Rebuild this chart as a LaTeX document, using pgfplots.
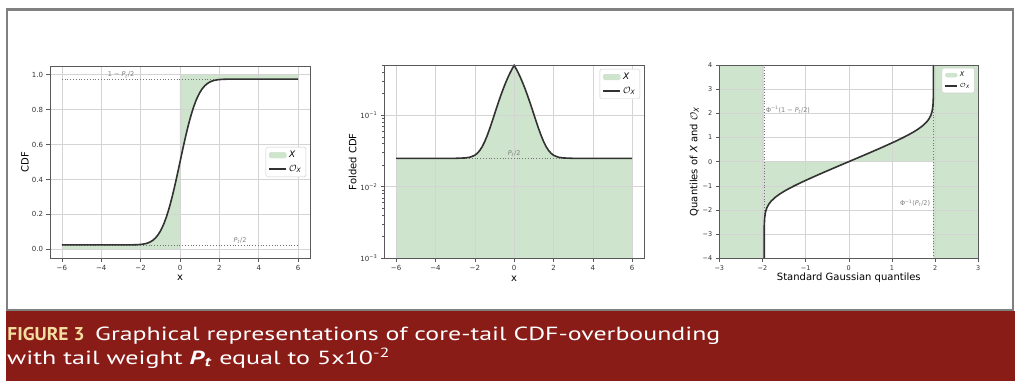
\documentclass[border=0pt]{standalone}
\usepackage{graphicx}
\usepackage{fontspec}
\setmainfont{DejaVu Sans}
\newfontfamily\capfont{PT Sans}
\usepackage{pgfplots}
\pgfplotsset{compat=1.18}
\usepackage{pgfplotstable}

\definecolor{gfill}{RGB}{206,228,204}
\definecolor{capred}{RGB}{138,28,24}
\definecolor{capyel}{RGB}{245,222,162}
\definecolor{curvec}{RGB}{50,50,50}

% CDF overbound (panel 1)
\pgfplotstableread{
x y
-6 0.025
-3 0.025
-2.5 0.0253
-2.25 0.0259
-2 0.0276
-1.875 0.0294
-1.75 0.0322
-1.625 0.0364
-1.5 0.0427
-1.375 0.0517
-1.25 0.0642
-1.125 0.0811
-1 0.1033
-0.9 0.1253
-0.8 0.1516
-0.7 0.1822
-0.6 0.2173
-0.5 0.2565
-0.4 0.2996
-0.3 0.3466
-0.2 0.3960
-0.1 0.4476
0 0.5
0.1 0.5524
0.2 0.6040
0.3 0.6534
0.4 0.7004
0.5 0.7435
0.6 0.7827
0.7 0.8178
0.8 0.8484
0.9 0.8747
1 0.8967
1.125 0.9189
1.25 0.9358
1.375 0.9483
1.5 0.9573
1.625 0.9636
1.75 0.9678
1.875 0.9706
2 0.9724
2.25 0.9741
2.5 0.9747
3 0.975
6 0.975
}\cdftab

% region of X below the curve, x<0
\pgfplotstableread{
x y
-6 0
-6 0.025
-3 0.025
-2.5 0.0253
-2.25 0.0259
-2 0.0276
-1.875 0.0294
-1.75 0.0322
-1.625 0.0364
-1.5 0.0427
-1.375 0.0517
-1.25 0.0642
-1.125 0.0811
-1 0.1033
-0.9 0.1253
-0.8 0.1516
-0.7 0.1822
-0.6 0.2173
-0.5 0.2565
-0.4 0.2996
-0.3 0.3466
-0.2 0.3960
-0.1 0.4476
0 0.5
0 0
}\lowpoly

% region of X above the curve, x>0
\pgfplotstableread{
x y
0 1
0 0.5
0.1 0.5524
0.2 0.6040
0.3 0.6534
0.4 0.7004
0.5 0.7435
0.6 0.7827
0.7 0.8178
0.8 0.8484
0.9 0.8747
1 0.8967
1.125 0.9189
1.25 0.9358
1.375 0.9483
1.5 0.9573
1.625 0.9636
1.75 0.9678
1.875 0.9706
2 0.9724
2.25 0.9741
2.5 0.9747
3 0.975
6 0.975
6 1
}\uppoly

% folded CDF (panel 2)
\pgfplotstableread{
x y
-6 0.025
-3 0.02501
-2.5 0.0253
-2.25 0.0259
-2 0.0276
-1.875 0.0294
-1.75 0.0322
-1.625 0.0364
-1.5 0.0427
-1.375 0.0517
-1.25 0.0642
-1.125 0.0811
-1 0.1033
-0.9 0.1253
-0.8 0.1516
-0.7 0.1822
-0.6 0.2173
-0.5 0.2565
-0.4 0.2996
-0.3 0.3466
-0.2 0.3960
-0.1 0.4476
0 0.5
0.1 0.4476
0.2 0.3960
0.3 0.3466
0.4 0.2996
0.5 0.2565
0.6 0.2173
0.7 0.1822
0.8 0.1516
0.9 0.1253
1 0.1033
1.125 0.0811
1.25 0.0642
1.375 0.0517
1.5 0.0427
1.625 0.0364
1.75 0.0322
1.875 0.0294
2 0.0276
2.25 0.0259
2.5 0.0253
3 0.02501
6 0.025
}\foldtab

% quantiles (panel 3)
\pgfplotstableread{
x y
-1.96 -4
-1.9599 -3.06
-1.959 -2.77
-1.958 -2.64
-1.95 -2.33
-1.93 -2.085
-1.9 -1.914
-1.85 -1.750
-1.8 -1.636
-1.7 -1.470
-1.6 -1.340
-1.5 -1.228
-1.4 -1.128
-1.25 -0.989
-1.1 -0.859
-1 -0.776
-0.75 -0.575
-0.5 -0.381
-0.25 -0.190
0 0
}\qneg
\pgfplotstableread{
x y
0 0
0.25 0.190
0.5 0.381
0.75 0.575
1 0.776
1.1 0.859
1.25 0.989
1.4 1.128
1.5 1.228
1.6 1.340
1.7 1.470
1.8 1.636
1.85 1.750
1.9 1.914
1.93 2.085
1.95 2.33
1.958 2.64
1.959 2.77
1.9599 3.06
1.96 4
}\qpos

\tikzset{
  curvest/.style={curvec, line width=1.6pt},
  dotst/.style={dotted, black!55, line width=0.8pt},
  gridst/.style={black!17, line width=0.6pt},
  annot/.style={font=\fontsize{6.5}{7}\selectfont, text=black!50, inner sep=0.5pt},
}
\pgfplotsset{
  panel/.style={
    scale only axis, anchor=south west, axis on top,
    axis line style={black!65, line width=0.7pt},
    tick align=outside, xtick pos=bottom, ytick pos=left,
    major tick length=3.5pt, minor tick length=2pt,
    every tick/.style={black!65, line width=0.6pt},
    grid=none,
    tick label style={font=\fontsize{7}{8}\selectfont, text=black!80},
    label style={font=\fontsize{8}{9}\selectfont, text=black!85},
    legend cell align=left,
    legend style={draw=black!20, fill=white, rounded corners=1.5pt,
      font=\fontsize{9}{10}\selectfont, inner xsep=2.5pt, inner ysep=2pt,
      row sep=2pt},
  },
}

\begin{document}
\begin{tikzpicture}
\useasboundingbox (0pt,0pt) rectangle (1024pt,388pt);
\fill[white] (0pt,0pt) rectangle (1024pt,388pt);
\fill[capred] (6pt,7pt) rectangle (1014.7pt,76.7pt);
\draw[black!50, line width=2.5pt] (7pt,77.9pt) rectangle (1013pt,378.5pt);

% caption
\node[anchor=base west, inner sep=0pt, text=capyel, font=\capfont\bfseries\fontsize{18.5}{19}\selectfont] at (7.3pt,47.3pt) {\resizebox{77pt}{\height}{FIGURE 3}};
\node[anchor=base west, inner sep=0pt, text=white, font=\capfont\fontsize{19}{19}\selectfont] at (95pt,47.3pt) {\resizebox{625pt}{\height}{Graphical representations of core-tail CDF-overbounding}};
\node[anchor=base west, inner sep=0pt, text=white, font=\capfont\fontsize{19}{19}\selectfont] at (7pt,24pt) {\resizebox{383pt}{\height}{with tail weight \textbf{\textit{P}\textsubscript{\textit{t}}} equal to 5x10\textsuperscript{-2}}};

% ---------------- panel 1
\begin{axis}[panel, at={(50pt,130pt)}, width=260pt, height=192pt,
  xmin=-6.6, xmax=6.6, ymin=-0.05, ymax=1.05,
  xtick={-6,-4,-2,0,2,4,6}, xticklabels={−6,−4,−2,0,2,4,6},
  ytick={0,0.2,0.4,0.6,0.8,1.0}, yticklabels={0.0,0.2,0.4,0.6,0.8,1.0},
  xlabel={x}, ylabel={CDF},
  every axis x label/.style={at={(axis description cs:0.5,-0.1026)}, anchor=center},
  every axis y label/.style={at={(axis description cs:-0.0962,0.5)}, rotate=90, anchor=center},
  legend style={at={(0.985,0.5)}, anchor=east},
]
\addplot[fill=gfill, draw=none, forget plot] table {\lowpoly};
\addplot[fill=gfill, draw=none, forget plot] table {\uppoly};
\pgfplotsinvokeforeach{-6,-4,-2,0,2,4,6}{\addplot[gridst, forget plot] coordinates {(#1,-0.05) (#1,1.05)};}
\pgfplotsinvokeforeach{0,0.2,0.4,0.6,0.8,1.0}{\addplot[gridst, forget plot] coordinates {(-6.6,#1) (6.6,#1)};}
\addplot[dotst, forget plot] coordinates {(-6,0.025) (6,0.025)};
\addplot[dotst, forget plot] coordinates {(-6,0.975) (6,0.975)};
\addplot[curvest, forget plot] table {\cdftab};
\node[annot, anchor=south west] at (axis cs:-3.7,0.977) {1 − \textit{P}\textsubscript{\textit{t}}/2};
\node[annot, anchor=south] at (axis cs:3.05,0.027) {\textit{P}\textsubscript{\textit{t}}/2};
\addlegendimage{area legend, fill=gfill, draw=gfill}
\addlegendentry{\textit{X}}
\addlegendimage{curvest}
\addlegendentry{$\mathcal{O}$\textsubscript{\textit{X}}}
\end{axis}

% ---------------- panel 2
\begin{axis}[panel, at={(384.3pt,129.7pt)}, width=259.7pt, height=193.3pt,
  ymode=log,
  xmin=-6.6, xmax=6.6, ymin=0.001, ymax=0.505,
  xtick={-6,-4,-2,0,2,4,6}, xticklabels={−6,−4,−2,0,2,4,6},
  ytick={0.001,0.01,0.1}, yticklabels={10\textsuperscript{−3},10\textsuperscript{−2},10\textsuperscript{−1}},
  minor ytick={0.002,0.003,0.004,0.005,0.006,0.007,0.008,0.009,0.02,0.03,0.04,0.05,0.06,0.07,0.08,0.09,0.2,0.3,0.4,0.5},
  xlabel={x}, ylabel={Folded CDF},
  every axis x label/.style={at={(axis description cs:0.5,-0.1035)}, anchor=center},
  every axis y label/.style={at={(axis description cs:-0.1217,0.5)}, rotate=90, anchor=center},
  legend style={at={(0.985,0.98)}, anchor=north east},
]
\addplot[fill=gfill, draw=none, forget plot] table {\foldtab} -- (axis cs:6,0.001) -- (axis cs:-6,0.001) -- cycle;
\pgfplotsinvokeforeach{-6,-4,-2,0,2,4,6}{\addplot[gridst, forget plot] coordinates {(#1,0.001) (#1,0.505)};}
\pgfplotsinvokeforeach{0.01,0.1}{\addplot[gridst, forget plot] coordinates {(-6.6,#1) (6.6,#1)};}
\addplot[dotst, forget plot] coordinates {(-6,0.025) (6,0.025)};
\addplot[curvest, forget plot] table {\foldtab};
\node[annot, anchor=south] at (axis cs:0,0.0262) {\textit{P}\textsubscript{\textit{t}}/2};
\addlegendimage{area legend, fill=gfill, draw=gfill}
\addlegendentry{\textit{X}}
\addlegendimage{curvest}
\addlegendentry{$\mathcal{O}$\textsubscript{\textit{X}}}
\end{axis}

% ---------------- panel 3
\begin{axis}[panel, at={(719.3pt,129.7pt)}, width=259pt, height=193.3pt,
  xmin=-3, xmax=3, ymin=-4, ymax=4,
  xtick={-3,-2,-1,0,1,2,3}, xticklabels={−3,−2,−1,0,1,2,3},
  ytick={-4,-3,-2,-1,0,1,2,3,4}, yticklabels={−4,−3,−2,−1,0,1,2,3,4},
  tick label style={font=\fontsize{6.5}{7}\selectfont},
  xlabel={Standard Gaussian quantiles}, ylabel={Quantiles of \textit{X} and $\mathcal{O}$\textsubscript{\textit{X}}},
  label style={font=\fontsize{7.3}{8}\selectfont},
  every axis x label/.style={at={(axis description cs:0.5,-0.1004)}, anchor=center},
  every axis y label/.style={at={(axis description cs:-0.0965,0.5)}, rotate=90, anchor=center},
  legend style={at={(0.985,0.985)}, anchor=north east, font=\fontsize{6.5}{7}\selectfont, row sep=1pt},
  legend image post style={scale=0.7},
]
\addplot[fill=gfill, draw=none, forget plot] coordinates {(-3,-4) (-3,4) (-1.96,4) (-1.96,-4)};
\addplot[fill=gfill, draw=none, forget plot] coordinates {(1.96,-4) (1.96,4) (3,4) (3,-4)};
\addplot[fill=gfill, draw=none, forget plot] table {\qneg} -- (axis cs:-1.96,0) -- cycle;
\addplot[fill=gfill, draw=none, forget plot] table {\qpos} -- (axis cs:1.96,0) -- cycle;
\pgfplotsinvokeforeach{-2,-1,0,1,2}{\addplot[gridst, forget plot] coordinates {(#1,-4) (#1,4)};}
\pgfplotsinvokeforeach{-3,-2,-1,0,1,2,3}{\addplot[gridst, forget plot] coordinates {(-3,#1) (3,#1)};}
\addplot[dotst, forget plot] coordinates {(-1.96,-4) (-1.96,4)};
\addplot[dotst, forget plot] coordinates {(1.96,-4) (1.96,4)};
\addplot[curvest, forget plot] table {\qneg};
\addplot[curvest, forget plot] table {\qpos};
\node[annot, anchor=west] at (axis cs:-1.93,2.14) {Φ\textsuperscript{−1}(1 − \textit{P}\textsubscript{\textit{t}}/2)};
\node[annot, anchor=east] at (axis cs:1.9,-1.72) {Φ\textsuperscript{−1}(\textit{P}\textsubscript{\textit{t}}/2)};
\addlegendimage{area legend, fill=gfill, draw=gfill}
\addlegendentry{\textit{X}}
\addlegendimage{curvest}
\addlegendentry{$\mathcal{O}$\textsubscript{\textit{X}}}
\end{axis}
\end{tikzpicture}
\end{document}
